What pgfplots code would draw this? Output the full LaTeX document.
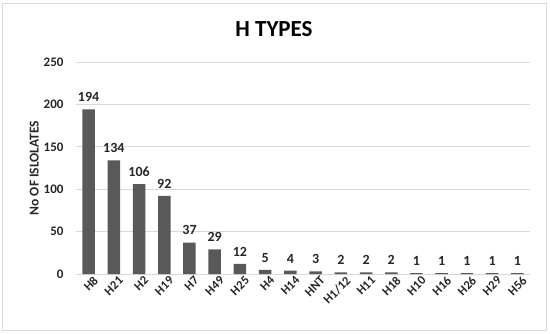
\documentclass[border=0pt]{standalone}
\usepackage{pgfplots}
\pgfplotsset{compat=1.18}
\usepackage{fontspec}
\setmainfont{Carlito}
\definecolor{barc}{HTML}{595959}
\definecolor{gridc}{HTML}{D9D9D9}
\definecolor{txt}{HTML}{262626}
\begin{document}
\begin{tikzpicture}[x=1pt,y=1pt]
\begin{axis}[
    at={(0,0)}, anchor=south west,
    scale only axis,
    width=454pt, height=212pt,
    ymin=0, ymax=250,
    ytick={0,50,...,250},
    xmin=-0.5, xmax=17.5,
    xtick={0,...,17},
    xticklabels={H8,H21,H2,H19,H7,H49,H25,H4,H14,HNT,H1/12,H11,H18,H10,H16,H26,H29,H56},
    x tick label style={rotate=45, anchor=north east, font=\bfseries\fontsize{12.5}{14}\selectfont, text=txt, inner sep=1pt, yshift=-3pt, xshift=3pt},
    y tick label style={font=\bfseries\fontsize{13}{15}\selectfont, text=txt, xshift=-9pt},
    /pgf/number format/assume math mode=true,
    ylabel={\bfseries No OF ISLOLATES},
    ylabel style={font=\fontsize{13.5}{15}\selectfont, text=txt, yshift=-2pt},
    axis x line*=bottom,
    axis y line*=left,
    y axis line style={draw=none},
    x axis line style={draw=gridc, line width=1pt},
    major tick length=0pt,
    ymajorgrids,
    grid style={draw=gridc, line width=1pt},
    ybar, bar width=12.5pt,
    nodes near coords,
    nodes near coords style={font=\bfseries\fontsize{14}{16}\selectfont, text=txt, yshift=4pt},
    clip=false,
]
\addplot[fill=barc, draw=none] coordinates {
(0,194) (1,134) (2,106) (3,92) (4,37) (5,29) (6,12) (7,5) (8,4) (9,3)
(10,2) (11,2) (12,2) (13,1) (14,1) (15,1) (16,1) (17,1)
};
\end{axis}
\node[font=\bfseries\fontsize{23}{27}\selectfont, anchor=base] at (198,237) {H TYPES};
\draw[gridc, line width=1pt] (-73,-56) rectangle (470,271);
\useasboundingbox (-76,-59) rectangle (474,274);
\end{tikzpicture}
\end{document}
